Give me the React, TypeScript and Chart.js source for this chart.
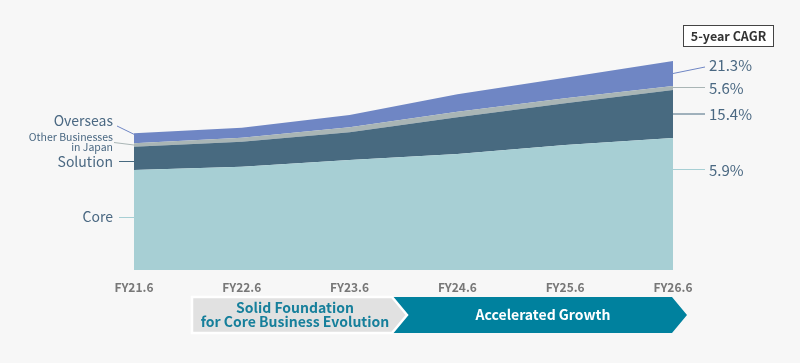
import { useEffect, useRef } from 'react';
import { Chart, registerables } from 'chart.js';

Chart.register(...registerables);

const categories = ['FY21.6', 'FY22.6', 'FY23.6', 'FY24.6', 'FY25.6', 'FY26.6'];
const core = [100, 103.3, 110, 116, 125, 132];
const solution = [23.3, 25, 27.7, 36.7, 41.7, 48];
const otherJapan = [3.4, 4, 5, 5.6, 5, 4];
const overseas = [10, 10, 12.3, 17.4, 20.6, 25];
const cagrCore = '5.9%';
const cagrSolution = '15.4%';
const cagrOther = '5.6%';
const cagrOverseas = '21.3%';
const cagrTitle = '5-year CAGR';
const phase1 = ['Solid Foundation', 'for Core Business Evolution'];
const phase2 = 'Accelerated Growth';

const FONT = '"Noto Sans CJK JP", "Noto Sans", sans-serif';
const C_CORE = '#a7cfd4';
const C_SOL = '#486a80';
const C_OTHER = '#a9b5b5';
const C_OVS = '#6f86c4';
const C_TEXT = '#4a6882';

const annotations = {
  id: 'annotations',
  afterDraw(chart: any) {
    const ctx = chart.ctx as CanvasRenderingContext2D;
    const xs = chart.scales.x;
    const ys = chart.scales.y;
    const n = categories.length - 1;
    const L = xs.getPixelForValue(0);
    const R = xs.getPixelForValue(n);
    const t0 = [core[0], core[0] + solution[0], core[0] + solution[0] + otherJapan[0], core[0] + solution[0] + otherJapan[0] + overseas[0]];
    const tn = [core[n], core[n] + solution[n], core[n] + solution[n] + otherJapan[n], core[n] + solution[n] + otherJapan[n] + overseas[n]];
    const line = (x1: number, y1: number, x2: number, y2: number, c: string) => {
      ctx.beginPath();
      ctx.moveTo(x1, y1);
      ctx.lineTo(x2, y2);
      ctx.strokeStyle = c;
      ctx.lineWidth = 1;
      ctx.stroke();
    };
    const text = (s: string, x: number, y: number, font: string, color: string, align: CanvasTextAlign) => {
      ctx.font = font;
      ctx.fillStyle = color;
      ctx.textAlign = align;
      ctx.textBaseline = 'middle';
      ctx.fillText(s, x, y);
    };
    ctx.save();
    // left labels
    const lx = L - 21;
    text('Overseas', lx, 121, `14px ${FONT}`, C_TEXT, 'right');
    line(L - 17, 126, L, ys.getPixelForValue(t0[3]) + 1, C_OVS);
    text('Other Businesses', lx, 137, `10.5px ${FONT}`, C_TEXT, 'right');
    text('in Japan', lx, 147.5, `10.5px ${FONT}`, C_TEXT, 'right');
    const midOther = (ys.getPixelForValue(t0[1]) + ys.getPixelForValue(t0[2])) / 2;
    line(L - 20, 142.5, L, midOther, C_OTHER);
    text('Solution', lx, 162, `14px ${FONT}`, C_TEXT, 'right');
    line(L - 15, 161.5, L, 161.5, C_SOL);
    text('Core', lx, 217, `14px ${FONT}`, C_TEXT, 'right');
    line(L - 15, 217.5, L, 217.5, C_CORE);

    // right labels
    const rx = R + 36;
    const midOvs = (ys.getPixelForValue(tn[2]) + ys.getPixelForValue(tn[3])) / 2;
    line(R, midOvs, R + 32, 67, C_OVS);
    text(cagrOverseas, rx, 65.5, `15px ${FONT}`, C_TEXT, 'left');
    line(R, 87.5, R + 32, 87.5, C_OTHER);
    text(cagrOther, rx, 88.5, `15px ${FONT}`, C_TEXT, 'left');
    const midSol = (ys.getPixelForValue(tn[0]) + ys.getPixelForValue(tn[1])) / 2;
    line(R, midSol, R + 32, midSol, C_SOL);
    text(cagrSolution, rx, 114.5, `15px ${FONT}`, C_TEXT, 'left');
    line(R, 169.5, R + 32, 169.5, C_CORE);
    text(cagrCore, rx, 170.5, `15px ${FONT}`, C_TEXT, 'left');

    // CAGR box
    ctx.fillStyle = '#ffffff';
    ctx.fillRect(683.5, 25.5, 90, 21);
    ctx.strokeStyle = '#444';
    ctx.lineWidth = 1;
    ctx.strokeRect(683.5, 25.5, 90, 21);
    text(cagrTitle, 728.5, 36.5, `bold 12.5px ${FONT}`, '#333', 'center');

    // phase arrows
    const top = 297, bot = 333, mid = 315;
    const g0 = 192, g1 = 392, gt = 407;
    const t1 = 672, tt = 687;
    ctx.beginPath();
    ctx.moveTo(g1, top);
    ctx.lineTo(t1, top);
    ctx.lineTo(tt, mid);
    ctx.lineTo(t1, bot);
    ctx.lineTo(g1, bot);
    ctx.lineTo(gt, mid);
    ctx.closePath();
    ctx.fillStyle = '#00819e';
    ctx.fill();

    ctx.beginPath();
    ctx.moveTo(g0, top);
    ctx.lineTo(g1, top);
    ctx.lineTo(gt, mid);
    ctx.lineTo(g1, bot);
    ctx.lineTo(g0, bot);
    ctx.closePath();
    ctx.fillStyle = '#e1e1e1';
    ctx.fill();
    ctx.strokeStyle = '#ffffff';
    ctx.lineWidth = 2.5;
    ctx.lineJoin = 'miter';
    ctx.stroke();

    text(phase1[0], 295, 307.5, `bold 14px ${FONT}`, '#167f9b', 'center');
    text(phase1[1], 295, 322, `bold 14px ${FONT}`, '#167f9b', 'center');
    text(phase2, 543, 314.5, `bold 14px ${FONT}`, '#ffffff', 'center');
    ctx.restore();
  },
};

export default function App() {
  const ref = useRef<HTMLCanvasElement>(null);
  useEffect(() => {
    if (!ref.current) return;
    const ds = (label: string, data: number[], color: string, fill: any) => ({
      label,
      data,
      backgroundColor: color,
      borderColor: 'rgba(0,0,0,0)',
      borderWidth: 0,
      pointRadius: 0,
      tension: 0,
      fill,
    });
    const chart = new Chart(ref.current, {
      type: 'line',
      data: {
        labels: categories,
        datasets: [
          ds('Core', core, C_CORE, 'origin'),
          ds('Solution', solution, C_SOL, '-1'),
          ds('Other Businesses in Japan', otherJapan, C_OTHER, '-1'),
          ds('Overseas', overseas, C_OVS, '-1'),
        ],
      },
      options: {
        animation: false,
        responsive: false,
        devicePixelRatio: 1,
        layout: { padding: { left: 134, right: 127, top: 40, bottom: 58.6 } },
        plugins: { legend: { display: false }, tooltip: { enabled: false } },
        scales: {
          x: {
            offset: false,
            grid: { display: false, drawTicks: false },
            border: { display: false },
            ticks: {
              color: '#777777',
              font: { family: FONT, size: 12, weight: 'bold' },
              padding: 10,
              maxRotation: 0,
              autoSkip: false,
            },
          },
          y: { stacked: true, display: false, min: 0, max: 230 },
        },
      },
      plugins: [annotations],
    });
    return () => chart.destroy();
  }, []);
  return (
    <div style={{ position: 'absolute', left: 0, top: 0, width: 800, height: 363, background: '#f7f7f7' }}>
      <canvas ref={ref} width={800} height={363} style={{ display: 'block' }} />
    </div>
  );
}
